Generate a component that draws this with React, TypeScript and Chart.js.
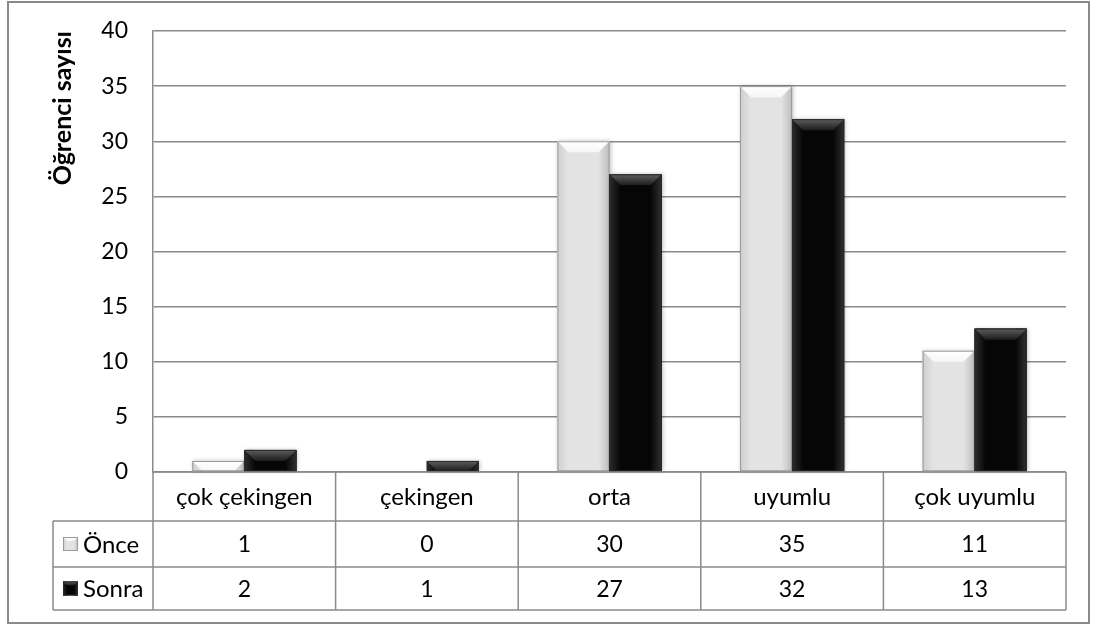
import React, { useEffect, useRef } from "react";
import { Chart, registerables } from "chart.js";

Chart.register(...registerables);

const categories = ["çok çekingen", "çekingen", "orta", "uyumlu", "çok uyumlu"];
const onceValues = [1, 0, 30, 35, 11];
const sonraValues = [2, 1, 27, 32, 13];
const seriesNames = ["Önce", "Sonra"];
const yTitle = "Öğrenci sayısı";

const FONT = "Lato, 'Open Sans', sans-serif";
const FS = 23;
const TFS = 24;
const GRID = "#8a8a8a";

type Palette = { base: string; top1: string; top2: string; left: string; right: string; border: string };
const palettes: Palette[] = [
  { base: "#e3e3e3", top1: "#ffffff", top2: "#f6f6f6", left: "#cfcfcf", right: "#bdbdbd", border: "#9a9a9a" },
  { base: "#060606", top1: "#5e5e5e", top2: "#1c1c1c", left: "#2c2c2c", right: "#303030", border: "#2a2a2a" },
];

function drawBevelRect(ctx: CanvasRenderingContext2D, l: number, t: number, r: number, b: number, p: Palette, bevel: number) {
  const w = r - l;
  const h = b - t;
  if (w <= 0 || h <= 0) return;
  const bv = Math.min(bevel, w / 3, h);
  ctx.save();
  ctx.fillStyle = p.base;
  ctx.fillRect(l, t, w, h);
  let g = ctx.createLinearGradient(l, 0, l + bv, 0);
  g.addColorStop(0, p.left);
  g.addColorStop(1, p.base);
  ctx.fillStyle = g;
  ctx.fillRect(l, t, bv, h);
  g = ctx.createLinearGradient(r - bv, 0, r, 0);
  g.addColorStop(0, p.base);
  g.addColorStop(1, p.right);
  ctx.fillStyle = g;
  ctx.fillRect(r - bv, t, bv, h);
  g = ctx.createLinearGradient(0, t, 0, t + bv);
  g.addColorStop(0, p.top1);
  g.addColorStop(1, p.top2);
  ctx.fillStyle = g;
  ctx.beginPath();
  ctx.moveTo(l, t);
  ctx.lineTo(r, t);
  ctx.lineTo(r - bv, t + bv);
  ctx.lineTo(l + bv, t + bv);
  ctx.closePath();
  ctx.fill();
  ctx.strokeStyle = p.border;
  ctx.lineWidth = 1;
  ctx.strokeRect(l + 0.5, t + 0.5, w - 1, h - 1);
  ctx.restore();
}

const framePlugin = {
  id: "frame",
  beforeDraw(chart: any) {
    const ctx = chart.ctx as CanvasRenderingContext2D;
    ctx.save();
    ctx.fillStyle = "#ffffff";
    ctx.fillRect(0, 0, chart.width, chart.height);
    ctx.strokeStyle = "#8a8a8a";
    ctx.lineWidth = 2;
    ctx.strokeRect(8, 2, chart.width - 15, chart.height - 3);
    ctx.restore();
  },
};

const bevelPlugin = {
  id: "bevel",
  afterDatasetsDraw(chart: any) {
    const ctx = chart.ctx as CanvasRenderingContext2D;
    chart.data.datasets.forEach((_: any, di: number) => {
      const meta = chart.getDatasetMeta(di);
      meta.data.forEach((el: any) => {
        const { x, y, base, width } = el.getProps(["x", "y", "base", "width"], true);
        if (Math.abs(base - y) < 0.5) return;
        const l = x - width / 2;
        const r = x + width / 2;
        ctx.save();
        ctx.shadowColor = "rgba(0,0,0,0.25)";
        ctx.shadowBlur = 4;
        ctx.shadowOffsetX = 1;
        ctx.fillStyle = palettes[di].base;
        ctx.fillRect(l, y, r - l, base - y);
        ctx.restore();
        drawBevelRect(ctx, l, y, r, base, palettes[di], 11);
      });
    });
  },
};

const tablePlugin = {
  id: "dataTable",
  afterDraw(chart: any) {
    const ctx = chart.ctx as CanvasRenderingContext2D;
    const xs = chart.scales.x;
    const ca = chart.chartArea;
    const n = categories.length;
    const half = (xs.getPixelForValue(1) - xs.getPixelForValue(0)) / 2;
    const left = xs.getPixelForValue(0) - half;
    const right = xs.getPixelForValue(n - 1) + half;
    const y0 = ca.bottom;
    const y1 = y0 + 49;
    const y2 = y1 + 46;
    const y3 = y2 + 43;
    const legL = 53;
    ctx.save();
    ctx.strokeStyle = GRID;
    ctx.lineWidth = 1.5;
    ctx.beginPath();
    ctx.moveTo(left, y0); ctx.lineTo(right, y0);
    ctx.moveTo(legL, y1); ctx.lineTo(right, y1);
    ctx.moveTo(legL, y2); ctx.lineTo(right, y2);
    ctx.moveTo(legL, y3); ctx.lineTo(right, y3);
    for (let i = 0; i <= n; i++) {
      const x = left + i * 2 * half;
      ctx.moveTo(x, y0); ctx.lineTo(x, y3);
    }
    ctx.moveTo(legL, y1); ctx.lineTo(legL, y3);
    ctx.stroke();

    ctx.fillStyle = "#000";
    ctx.font = `${TFS}px ${FONT}`;
    ctx.textAlign = "center";
    ctx.textBaseline = "middle";
    const rows = [onceValues, sonraValues];
    categories.forEach((c, i) => {
      const cx = xs.getPixelForValue(i);
      ctx.fillText(c, cx, (y0 + y1) / 2 + 1);
      ctx.font = `${FS}px ${FONT}`;
      ctx.fillText(String(rows[0][i]), cx, (y1 + y2) / 2 + 1);
      ctx.fillText(String(rows[1][i]), cx, (y2 + y3) / 2 + 1);
      ctx.font = `${TFS}px ${FONT}`;
    });
    const rowMid = [(y1 + y2) / 2, (y2 + y3) / 2];
    seriesNames.forEach((name, si) => {
      const my = rowMid[si];
      drawBevelRect(ctx, 63, my - 7, 78, my + 7, palettes[si], 4);
      ctx.fillStyle = "#000";
      ctx.textAlign = "left";
      ctx.fillText(name, 83, my + 1);
    });
    ctx.restore();
  },
};

export default function App() {
  const ref = useRef<HTMLCanvasElement | null>(null);
  useEffect(() => {
    if (!ref.current) return;
    const chart = new Chart(ref.current, {
      type: "bar",
      data: {
        labels: categories,
        datasets: [
          { label: seriesNames[0], data: onceValues, backgroundColor: palettes[0].base, borderWidth: 0 },
          { label: seriesNames[1], data: sonraValues, backgroundColor: palettes[1].base, borderWidth: 0 },
        ],
      },
      options: {
        animation: false,
        responsive: true,
        maintainAspectRatio: false,
        datasets: { bar: { categoryPercentage: 0.57, barPercentage: 1 } },
        layout: { padding: { top: 31, right: 30, bottom: 152, left: 0 } },
        plugins: { legend: { display: false }, tooltip: { enabled: false } },
        scales: {
          x: { display: false },
          y: {
            min: 0,
            max: 40,
            ticks: { stepSize: 5, color: "#000", font: { family: FONT, size: FS }, padding: 25 },
            grid: { color: GRID, lineWidth: 1.5, drawTicks: false },
            border: { display: true, color: GRID, width: 1.5 },
            title: {
              display: true,
              text: yTitle,
              align: "end",
              color: "#000",
              font: { family: FONT, size: 25, weight: "bold" },
              padding: { top: 48, bottom: 0 },
            },
            afterFit(scale: any) {
              scale.width = 153;
              scale.paddingTop = 0;
              scale.paddingBottom = 0;
            },
          },
        },
      },
      plugins: [framePlugin, bevelPlugin, tablePlugin],
    });
    return () => chart.destroy();
  }, []);
  return (
    <div style={{ position: "fixed", left: 0, top: 0, width: 1096, height: 624 }}>
      <canvas ref={ref} />
    </div>
  );
}
